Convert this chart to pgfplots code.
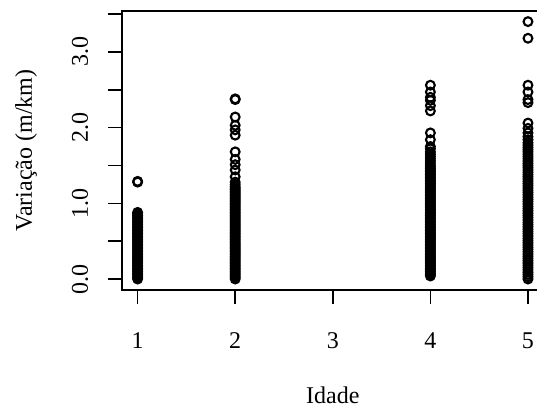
\documentclass[border=0pt]{standalone}
\usepackage{pgfplots}
\pgfplotsset{compat=1.18}
\usepackage{fontspec}
\setmainfont{Liberation Serif}
\pgfplotsset{pts/.style={only marks, mark=o, mark size=2.2pt, black, line width=1.05pt}}
\begin{document}
\begin{tikzpicture}
\useasboundingbox (0,0) rectangle (268.5pt,203.5pt);
\clip (0,0) rectangle (268.5pt,203.5pt);
\begin{axis}[
  at={(61pt,58.5pt)}, anchor=south west,
  scale only axis, width=210.8pt, height=139.5pt,
  xmin=0.84, xmax=5.16, ymin=-0.145, ymax=3.54,
  xtick={1,2,3,4,5},
  ytick={0,0.5,1,1.5,2,2.5,3,3.5},
  yticklabels={0.0,,1.0,,2.0,,3.0,},
  xtick pos=left, ytick pos=left,
  tick align=outside, major tick length=7pt,
  axis line style={line width=0.8pt},
  every tick/.style={black, line width=0.8pt},
  /pgf/number format/assume math mode=true,
  tick label style={font=\fontsize{12}{14}\selectfont},
  label style={font=\fontsize{12}{14}\selectfont},
  yticklabel style={rotate=90, anchor=base},
  yticklabel shift=10pt,
  xticklabel style={anchor=base},
  xticklabel shift=22.5pt,
  xlabel={Idade}, ylabel={Variação (m/km)},
  xlabel style={at={(axis description cs:0.5,-0.4086)}, anchor=base},
  ylabel style={at={(axis description cs:-0.2135,0.5)}, anchor=base},
]
\addplot[pts] coordinates {(1,0.00)(1,0.02)(1,0.04)(1,0.06)(1,0.08)(1,0.10)(1,0.12)(1,0.14)(1,0.16)(1,0.18)(1,0.20)(1,0.22)(1,0.24)(1,0.26)(1,0.28)(1,0.30)(1,0.32)(1,0.34)(1,0.36)(1,0.38)(1,0.40)(1,0.42)(1,0.44)(1,0.46)(1,0.48)(1,0.50)(1,0.52)(1,0.54)(1,0.56)(1,0.58)(1,0.60)(1,0.62)(1,0.64)(1,0.66)(1,0.68)(1,0.70)(1,0.72)(1,0.74)(1,0.76)(1,0.78)(1,0.80)(1,0.82)(1,0.84)(1,0.86)(1,0.88)(1,1.28)(1,1.29)};
\addplot[pts] coordinates {(2,0.00)(2,0.02)(2,0.04)(2,0.06)(2,0.08)(2,0.10)(2,0.12)(2,0.14)(2,0.16)(2,0.18)(2,0.20)(2,0.22)(2,0.24)(2,0.26)(2,0.28)(2,0.30)(2,0.32)(2,0.34)(2,0.36)(2,0.38)(2,0.40)(2,0.42)(2,0.44)(2,0.46)(2,0.48)(2,0.50)(2,0.52)(2,0.54)(2,0.56)(2,0.58)(2,0.60)(2,0.62)(2,0.64)(2,0.66)(2,0.68)(2,0.70)(2,0.72)(2,0.74)(2,0.76)(2,0.78)(2,0.80)(2,0.82)(2,0.84)(2,0.86)(2,0.88)(2,0.90)(2,0.92)(2,0.94)(2,0.96)(2,0.98)(2,1.00)(2,1.02)(2,1.04)(2,1.06)(2,1.08)(2,1.10)(2,1.12)(2,1.14)(2,1.16)(2,1.18)(2,1.20)(2,1.22)(2,1.25)(2,1.28)(2,1.35)(2,1.44)(2,1.51)(2,1.58)(2,1.68)(2,1.90)(2,1.97)(2,2.03)(2,2.14)(2,2.37)(2,2.38)};
\addplot[pts] coordinates {(4,0.04)(4,0.06)(4,0.08)(4,0.10)(4,0.12)(4,0.14)(4,0.16)(4,0.18)(4,0.20)(4,0.22)(4,0.24)(4,0.26)(4,0.28)(4,0.30)(4,0.32)(4,0.34)(4,0.36)(4,0.38)(4,0.40)(4,0.42)(4,0.44)(4,0.46)(4,0.48)(4,0.50)(4,0.52)(4,0.54)(4,0.56)(4,0.58)(4,0.60)(4,0.62)(4,0.64)(4,0.66)(4,0.68)(4,0.70)(4,0.72)(4,0.74)(4,0.76)(4,0.78)(4,0.80)(4,0.82)(4,0.84)(4,0.86)(4,0.88)(4,0.90)(4,0.92)(4,0.94)(4,0.96)(4,0.98)(4,1.00)(4,1.02)(4,1.04)(4,1.06)(4,1.08)(4,1.10)(4,1.12)(4,1.14)(4,1.16)(4,1.18)(4,1.20)(4,1.22)(4,1.24)(4,1.26)(4,1.28)(4,1.30)(4,1.32)(4,1.34)(4,1.36)(4,1.38)(4,1.40)(4,1.42)(4,1.44)(4,1.46)(4,1.48)(4,1.50)(4,1.53)(4,1.56)(4,1.59)(4,1.62)(4,1.65)(4,1.68)(4,1.72)(4,1.75)(4,1.84)(4,1.93)(4,2.22)(4,2.29)(4,2.36)(4,2.40)(4,2.47)(4,2.56)};
\addplot[pts] coordinates {(5,0.00)(5,0.03)(5,0.06)(5,0.09)(5,0.12)(5,0.15)(5,0.18)(5,0.21)(5,0.24)(5,0.27)(5,0.30)(5,0.33)(5,0.36)(5,0.39)(5,0.42)(5,0.45)(5,0.48)(5,0.51)(5,0.54)(5,0.57)(5,0.60)(5,0.63)(5,0.66)(5,0.69)(5,0.72)(5,0.75)(5,0.78)(5,0.81)(5,0.84)(5,0.87)(5,0.90)(5,0.93)(5,0.96)(5,0.99)(5,1.02)(5,1.05)(5,1.08)(5,1.11)(5,1.14)(5,1.17)(5,1.20)(5,1.23)(5,1.26)(5,1.29)(5,1.32)(5,1.35)(5,1.38)(5,1.41)(5,1.44)(5,1.47)(5,1.50)(5,1.53)(5,1.56)(5,1.59)(5,1.62)(5,1.65)(5,1.68)(5,1.71)(5,1.74)(5,1.77)(5,1.80)(5,1.84)(5,1.88)(5,1.93)(5,1.99)(5,2.06)(5,2.33)(5,2.37)(5,2.47)(5,2.56)(5,3.18)(5,3.40)};
\end{axis}
\end{tikzpicture}
\end{document}
